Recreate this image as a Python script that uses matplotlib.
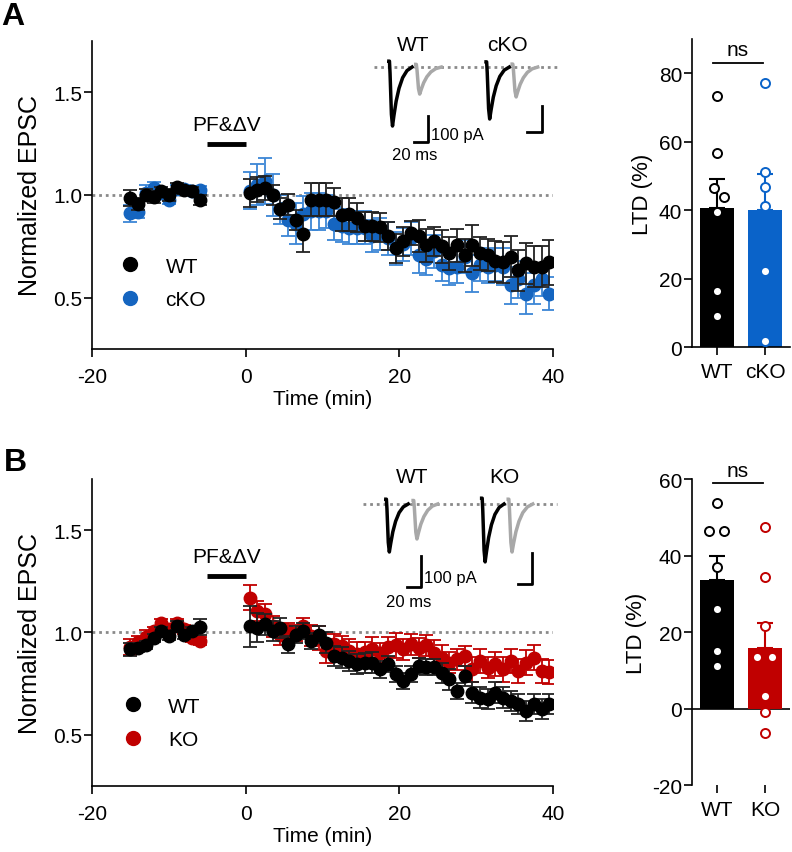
import matplotlib
matplotlib.use("Agg")
import matplotlib.pyplot as plt
from matplotlib.lines import Line2D
import numpy as np

plt.rcParams['font.family'] = ['Liberation Sans', 'DejaVu Sans']
plt.rcParams['axes.unicode_minus'] = False

# ---------------- data ----------------
# time points (min)
t_base = [-15, -14, -13, -12, -11, -10, -9, -8, -7, -6]
t_post = [0.5, 1.5, 2.5, 3.5, 4.5, 5.5, 6.5, 7.5, 8.5, 9.5,
          10.5, 11.5, 12.5, 13.5, 14.5, 15.5, 16.5, 17.5, 18.5, 19.5,
          20.5, 21.5, 22.5, 23.5, 24.5, 25.5, 26.5, 27.5, 28.5, 29.5,
          30.5, 31.5, 32.5, 33.5, 34.5, 35.5, 36.5, 37.5, 38.5, 39.5]

# panel A, WT
a_wt_base = [0.985, 0.956, 1.0, 0.99, 1.018, 1.0, 1.038, 1.026, 1.018, 0.977]
a_wt_base_err = [0.04, 0.03, 0.03, 0.03, 0.02, 0.03, 0.02, 0.02, 0.02, 0.025]
a_wt_post = [1.01, 1.026, 1.034, 1.0, 0.933, 0.953, 0.879, 0.81, 0.977, 0.977,
             0.977, 0.966, 0.904, 0.905, 0.89, 0.848, 0.848, 0.843, 0.80, 0.74,
             0.775, 0.814, 0.80, 0.756, 0.775, 0.75, 0.716, 0.756, 0.706, 0.756,
             0.716, 0.708, 0.678, 0.672, 0.70, 0.634, 0.667, 0.65, 0.65, 0.672]
a_wt_post_err = [0.07, 0.06, 0.06, 0.05, 0.05, 0.05, 0.05, 0.09, 0.08, 0.08,
                 0.08, 0.07, 0.08, 0.08, 0.07, 0.07, 0.07, 0.07, 0.07, 0.07,
                 0.07, 0.06, 0.08, 0.08, 0.07, 0.08, 0.08, 0.08, 0.08, 0.1,
                 0.08, 0.08, 0.1, 0.1, 0.1, 0.1, 0.1, 0.1, 0.1, 0.11]
# panel A, cKO
a_ko_base = [0.91, 0.917, 1.01, 1.034, 1.01, 0.977, 1.03, 1.03, 1.018, 1.026]
a_ko_base_err = [0.04, 0.03, 0.04, 0.03, 0.02, 0.02, 0.02, 0.02, 0.02, 0.02]
a_ko_post = [1.02, 1.05, 1.068, 1.0, 0.93, 0.88, 0.86, 0.905, 0.92, 0.92,
             0.92, 0.86, 0.85, 0.84, 0.84, 0.84, 0.80, 0.81, 0.79, 0.74,
             0.76, 0.79, 0.708, 0.69, 0.725, 0.66, 0.643, 0.65, 0.70, 0.618,
             0.66, 0.65, 0.66, 0.65, 0.56, 0.59, 0.52, 0.56, 0.59, 0.52]
a_ko_post_err = [0.09, 0.1, 0.11, 0.1, 0.07, 0.08, 0.1, 0.09, 0.09, 0.09,
                 0.08, 0.08, 0.08, 0.08, 0.08, 0.08, 0.08, 0.08, 0.08, 0.08,
                 0.08, 0.08, 0.09, 0.08, 0.08, 0.08, 0.08, 0.08, 0.08, 0.09,
                 0.08, 0.08, 0.08, 0.09, 0.09, 0.09, 0.1, 0.09, 0.08, 0.08]

# panel B, WT
b_wt_base = [0.917, 0.925, 0.937, 0.974, 1.006, 0.985, 1.034, 0.99, 1.006, 1.028]
b_wt_base_err = [0.03, 0.02, 0.02, 0.02, 0.02, 0.02, 0.02, 0.02, 0.02, 0.04]
b_wt_post = [1.03, 1.023, 1.04, 1.006, 1.023, 0.942, 0.99, 1.006, 0.958, 0.99,
             0.95, 0.885, 0.877, 0.86, 0.845, 0.85, 0.853, 0.82, 0.845, 0.796,
             0.763, 0.796, 0.836, 0.83, 0.83, 0.803, 0.771, 0.714, 0.787, 0.706,
             0.682, 0.674, 0.706, 0.682, 0.666, 0.65, 0.617, 0.65, 0.625, 0.65]
b_wt_post_err = [0.1, 0.07, 0.05, 0.05, 0.05, 0.04, 0.04, 0.04, 0.04, 0.04,
                 0.05, 0.05, 0.05, 0.05, 0.05, 0.05, 0.05, 0.04, 0.04, 0.04,
                 0.04, 0.04, 0.04, 0.04, 0.04, 0.05, 0.05, 0.04, 0.05, 0.05,
                 0.05, 0.05, 0.05, 0.05, 0.05, 0.05, 0.05, 0.05, 0.05, 0.05]
# panel B, KO
b_ko_base = [0.93, 0.953, 0.98, 1.006, 1.047, 1.015, 1.047, 1.015, 0.974, 0.958]
b_ko_base_err = [0.04, 0.03, 0.03, 0.02, 0.02, 0.02, 0.02, 0.02, 0.02, 0.02]
b_ko_post = [1.17, 1.104, 1.088, 1.03, 0.99, 1.006, 0.998, 1.03, 0.985, 0.974,
             0.909, 0.942, 0.934, 0.909, 0.895, 0.905, 0.917, 0.901, 0.93, 0.937,
             0.917, 0.942, 0.925, 0.937, 0.901, 0.877, 0.853, 0.868, 0.885, 0.82,
             0.86, 0.828, 0.845, 0.82, 0.86, 0.812, 0.853, 0.877, 0.812, 0.807]
b_ko_post_err = [0.06, 0.05, 0.05, 0.05, 0.05, 0.04, 0.04, 0.04, 0.05, 0.06,
                 0.06, 0.05, 0.05, 0.06, 0.06, 0.05, 0.06, 0.05, 0.05, 0.06,
                 0.05, 0.05, 0.05, 0.05, 0.06, 0.06, 0.05, 0.05, 0.05, 0.06,
                 0.06, 0.05, 0.06, 0.06, 0.06, 0.06, 0.06, 0.06, 0.06, 0.06]

# LTD (%) per cell
a_ltd_wt = [73.3, 56.6, 46.4, 43.8, 39.4, 16.4, 9.0]
a_ltd_wt_dx = [0, 0, -0.06, 0.15, 0, 0, 0]
a_ltd_ko = [77.0, 51.2, 46.7, 41.3, 22.2, 1.7]
a_ltd_ko_dx = [0, 0, 0, 0, 0, 0]
b_ltd_wt = [53.8, 46.4, 46.4, 37.1, 26.1, 15.0, 11.0]
b_ltd_wt_dx = [0, -0.16, 0.15, 0, 0, 0, 0]
b_ltd_ko = [47.5, 34.3, 21.7, 13.5, 13.5, 3.4, -1.0, -6.5]
b_ltd_ko_dx = [0, 0, 0, -0.16, 0.15, 0, 0, 0]

# example EPSC traces: shape template (ms, fraction of peak) and amplitudes (pA)
trace_t = [0, 0.8, 1.6, 3.5, 5.0, 7, 10, 14, 19, 25, 32]
trace_v = [0.1, 0.1, -0.1, -0.8, -1.0, -0.82, -0.58, -0.36, -0.18, -0.06, 0.0]
a_amp = {'WT': (227, 104), 'cKO': (200, 115)}
b_amp = {'WT': (155, 113), 'KO': (187, 155)}

BLUE = '#1565c0'
BLUE_ERR = '#3b86d6'
BLUE_BAR = '#0a63c9'
RED = '#c00000'
GRAY_DOT = '#8a8a8a'

fig = plt.figure(figsize=(7.92, 8.53), dpi=100)


def style_axis(ax):
    for s in ['top', 'right']:
        ax.spines[s].set_visible(False)
    for s in ['left', 'bottom']:
        ax.spines[s].set_linewidth(1.2)
    ax.tick_params(direction='out', length=6, width=1.2, labelsize=15)


def time_course(pos, wt, ko, ko_label, ko_color, ko_err_color, leg_anchor, pf_y):
    ax = fig.add_axes(pos)
    style_axis(ax)
    ax.axhline(1.0, color=GRAY_DOT, lw=2, ls=(0, (1, 1.4)), zorder=1)
    # ko first so WT sits on top
    for tt, (m, e) in [(t_base, ko[0]), (t_post, ko[1])]:
        ax.errorbar(tt, m, yerr=e, fmt='o', color=ko_color, ecolor=ko_err_color,
                    ms=9, elinewidth=1.3, capsize=5, capthick=1.3, zorder=2)
    for tt, (m, e) in [(t_base, wt[0]), (t_post, wt[1])]:
        ax.errorbar(tt, m, yerr=e, fmt='o', color='black', ecolor='#222222',
                    ms=9, elinewidth=1.3, capsize=5, capthick=1.3, zorder=3)
    ax.set_xlim(-20, 40)
    ax.set_ylim(0.25, 1.75)
    ax.set_xticks([-20, 0, 20, 40])
    ax.set_yticks([0.5, 1.0, 1.5])
    ax.set_yticklabels(['0.5', '1.0', '1.5'])
    ax.tick_params(axis='y', pad=1)
    ax.tick_params(axis='x', pad=7)
    ax.set_xlabel('Time (min)', fontsize=15, labelpad=2)
    ax.set_ylabel('Normalized EPSC', fontsize=18, labelpad=8)
    # conditioning period
    ax.plot([-5, 0], [pf_y, pf_y], color='black', lw=3.5, solid_capstyle='butt')
    ax.text(-2.5, pf_y + 0.05, 'PF&ΔV', fontsize=15, ha='center', va='bottom')
    handles = [Line2D([], [], marker='o', ls='none', color='black', ms=10),
               Line2D([], [], marker='o', ls='none', color=ko_color, ms=10)]
    ax.legend(handles, ['WT', ko_label], loc='upper left', bbox_to_anchor=leg_anchor,
              frameon=False, fontsize=15, handlelength=1.0, handletextpad=1.2,
              labelspacing=0.7, borderpad=0, borderaxespad=0)
    return ax


def bar_panel(pos, wt, wt_dx, ko, ko_dx, ko_label, ko_color, ylim, yticks, ns_y):
    ax = fig.add_axes(pos)
    style_axis(ax)
    groups = [(wt, wt_dx, 'black'), (ko, ko_dx, ko_color)]
    for i, (vals, dx, c) in enumerate(groups):
        vals = np.array(vals)
        mean = vals.mean()
        sem = vals.std(ddof=1) / np.sqrt(len(vals))
        ax.bar(i, mean, width=0.7, color=c, zorder=1)
        ax.errorbar(i, mean, yerr=[[0], [sem]], color=c, elinewidth=1.5,
                    capsize=6, capthick=1.5, zorder=2)
        ax.plot(np.array(dx) + i, vals, 'o', ms=6.5, mfc='white', mec=c, mew=1.4,
                zorder=3, clip_on=False)
    ax.set_xlim(-0.52, 1.52)
    ax.set_ylim(*ylim)
    ax.set_yticks(yticks)
    ax.set_xticks([0, 1])
    ax.set_xticklabels(['WT', ko_label])
    ax.tick_params(axis='y', pad=1)
    ax.tick_params(axis='x', pad=5)
    ax.set_ylabel('LTD (%)', fontsize=16, labelpad=4)
    ax.plot([-0.08, 0.96], [ns_y, ns_y], color='black', lw=1.3, clip_on=False)
    span = ylim[1] - ylim[0]
    ax.text(0.44, ns_y + span * 0.012, 'ns', fontsize=15, ha='center', va='bottom')
    if ylim[0] < 0:
        ax.spines['bottom'].set_visible(False)
        ax.axhline(0, color='black', lw=1.2, zorder=0.5)
    return ax


def inset(pos, amps, onsets, xlim, ylim, scale1, scale2, txt_pos):
    ax = fig.add_axes(pos)
    ax.axis('off')
    ax.set_xlim(*xlim)
    ax.set_ylim(*ylim)
    ax.plot([xlim[0] + 5, xlim[1] - 4], [0, 0], color=GRAY_DOT, lw=2,
            ls=(0, (1, 1.4)), zorder=1)
    tt = np.array(trace_t)
    vv = np.array(trace_v)
    for (name, (a_black, a_gray)), (on_b, on_g), lx in zip(amps.items(), onsets, txt_pos):
        ax.plot(tt + on_b, vv * a_black, color='black', lw=2.5, zorder=3)
        ax.plot(tt * 1.1 + on_g, vv * a_gray, color='#a8a8a8', lw=2.5, zorder=2)
        ax.text(lx, ylim[1] * 0.8, name, fontsize=15, ha='center', va='center')
    for (x0, y0), with_text in [(scale1, True), (scale2, False)]:
        ax.plot([x0 - 20, x0, x0], [y0, y0, y0 + 100], color='black', lw=2)
        if with_text:
            ax.text(x0 + 4, y0 + 30, '100 pA', fontsize=12, ha='left', va='center')
            ax.text(x0 - 18, y0 - 48, '20 ms', fontsize=12, ha='center', va='center')
    return ax


# panel A
time_course([0.1162, 0.5897, 0.5821, 0.3611],
            ((a_wt_base, a_wt_base_err), (a_wt_post, a_wt_post_err)),
            ((a_ko_base, a_ko_base_err), (a_ko_post, a_ko_post_err)),
            'cKO', BLUE, BLUE_ERR, (0.06, 0.30), 1.247)
bar_panel([0.8737, 0.592, 0.1237, 0.3611], a_ltd_wt, a_ltd_wt_dx, a_ltd_ko,
          a_ltd_ko_dx, 'cKO', BLUE_BAR, (0, 90), [0, 20, 40, 60, 80], 83)
inset([0.4672, 0.8124, 0.2399, 0.1407], a_amp, [(26, 63), (160, 196)],
      (0, 262), (-354, 108), (80, -288), (237, -250), [59, 190])

# panel B
time_course([0.1162, 0.0774, 0.5821, 0.3599],
            ((b_wt_base, b_wt_base_err), (b_wt_post, b_wt_post_err)),
            ((b_ko_base, b_ko_base_err), (b_ko_post, b_ko_post_err)),
            'KO', RED, RED, (0.066, 0.291), 1.277)
bar_panel([0.8737, 0.0785, 0.1237, 0.3587], b_ltd_wt, b_ltd_wt_dx, b_ltd_ko,
          b_ltd_ko_dx, 'KO', RED, (-20, 60), [-20, 0, 20, 40, 60], 58.9)
inset([0.4545, 0.2849, 0.2525, 0.1641], b_amp, [(37, 76), (174, 212)],
      (0, 286), (-339, 113), (87, -268), (246, -258), [74, 207])

fig.text(0.016, 0.98, 'A', fontsize=23, fontweight='bold', ha='center', va='center')
fig.text(0.019, 0.457, 'B', fontsize=23, fontweight='bold', ha='center', va='center')

fig.savefig('out.png', dpi=100)
